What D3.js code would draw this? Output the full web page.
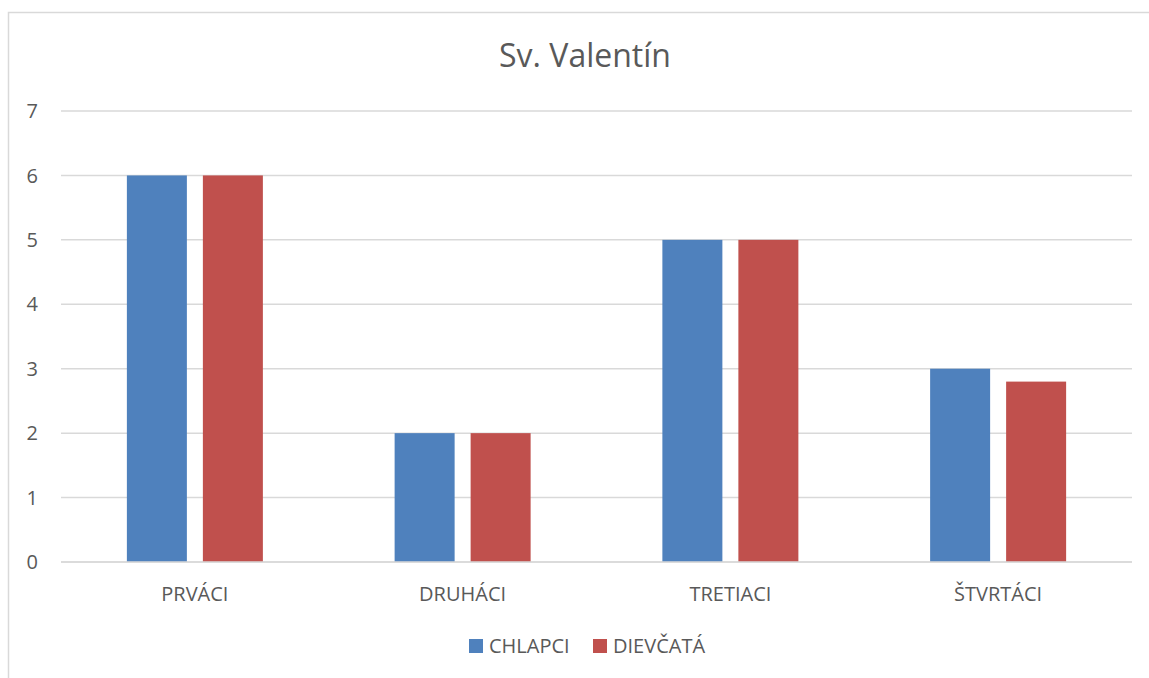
<!DOCTYPE html>
<html>
<head>
<meta charset="utf-8">
<script src="https://cdn.jsdelivr.net/npm/d3@7"></script>
<style>
  body { margin: 0; background: #fff; }
  svg { display: block; font-family: "Open Sans", sans-serif; }
</style>
</head>
<body>
<svg id="chart" width="1149" height="678"></svg>
<script>
// Data
const categories = ["PRVÁCI", "DRUHÁCI", "TRETIACI", "ŠTVRTÁCI"];
const seriesNames = ["CHLAPCI", "DIEVČATÁ"];
const chlapci = [6, 2, 5, 3];
const dievcata = [6, 2, 5, 2.8];
const yTicks = [0, 1, 2, 3, 4, 5, 6, 7];
const colors = ["#4F81BD", "#C0504D"];

const svg = d3.select("#chart");

// Chart area border
svg.append("rect")
    .attr("x", 8.5)
    .attr("y", 12.5)
    .attr("width", 1160)
    .attr("height", 700)
    .attr("fill", "none")
    .attr("stroke", "#D9D9D9")
    .attr("stroke-width", 1.5);

const margin = {top: 111, left: 61, right: 17, bottom: 116};
const width = 1149 - margin.left - margin.right;
const height = 678 - margin.top - margin.bottom;

const g = svg.append("g")
    .attr("transform", `translate(${margin.left},${margin.top})`);

const y = d3.scaleLinear().domain([0, 7]).range([height, 0]);
const x0 = d3.scaleBand().domain(categories).range([0, width]);

// Gridlines
g.selectAll("line.grid")
    .data(yTicks)
    .enter()
    .append("line")
    .attr("class", "grid")
    .attr("x1", 0)
    .attr("x2", width)
    .attr("y1", d => y(d))
    .attr("y2", d => y(d))
    .attr("stroke", "#D9D9D9")
    .attr("stroke-width", 1.5);

// Y tick labels
g.selectAll("text.ytick")
    .data(yTicks)
    .enter()
    .append("text")
    .attr("class", "ytick")
    .attr("x", -23)
    .attr("y", d => y(d))
    .attr("dy", "0.36em")
    .attr("text-anchor", "end")
    .attr("fill", "#595959")
    .attr("font-size", "20px")
    .text(d => d);

// Bars
const barW = 60, gap = 16;
const rows = categories.map((c, i) => ({cat: c, vals: [chlapci[i], dievcata[i]]}));

const groups = g.selectAll("g.cat")
    .data(rows)
    .enter()
    .append("g")
    .attr("class", "cat")
    .attr("transform", d => `translate(${x0(d.cat) + x0.bandwidth() / 2},0)`);

groups.selectAll("rect")
    .data(d => d.vals)
    .enter()
    .append("rect")
    .attr("x", (d, i) => i === 0 ? -gap / 2 - barW : gap / 2)
    .attr("y", d => y(d))
    .attr("width", barW)
    .attr("height", d => y(0) - y(d))
    .attr("fill", (d, i) => colors[i]);

// Zero line on top of bars
g.append("line")
    .attr("x1", 0)
    .attr("x2", width)
    .attr("y1", y(0))
    .attr("y2", y(0))
    .attr("stroke", "#D9D9D9")
    .attr("stroke-width", 1.5);

// Category labels
g.selectAll("text.xtick")
    .data(categories)
    .enter()
    .append("text")
    .attr("class", "xtick")
    .attr("x", d => x0(d) + x0.bandwidth() / 2)
    .attr("y", height + 39)
    .attr("text-anchor", "middle")
    .attr("fill", "#595959")
    .attr("font-size", "20px")
    .text(d => d);

// Title
svg.append("text")
    .attr("x", 585)
    .attr("y", 67)
    .attr("text-anchor", "middle")
    .attr("fill", "#595959")
    .attr("font-size", "32px")
    .text("Sv. Valentín");

// Legend
const legend = svg.append("g").attr("transform", "translate(469,639)");
const legendX = [0, 124];
seriesNames.forEach((name, i) => {
    legend.append("rect")
        .attr("x", legendX[i])
        .attr("y", 0)
        .attr("width", 14)
        .attr("height", 14)
        .attr("fill", colors[i]);
    legend.append("text")
        .attr("x", legendX[i] + 20)
        .attr("y", 14)
        .attr("fill", "#595959")
        .attr("font-size", "20px")
        .text(name);
});
</script>
</body>
</html>
